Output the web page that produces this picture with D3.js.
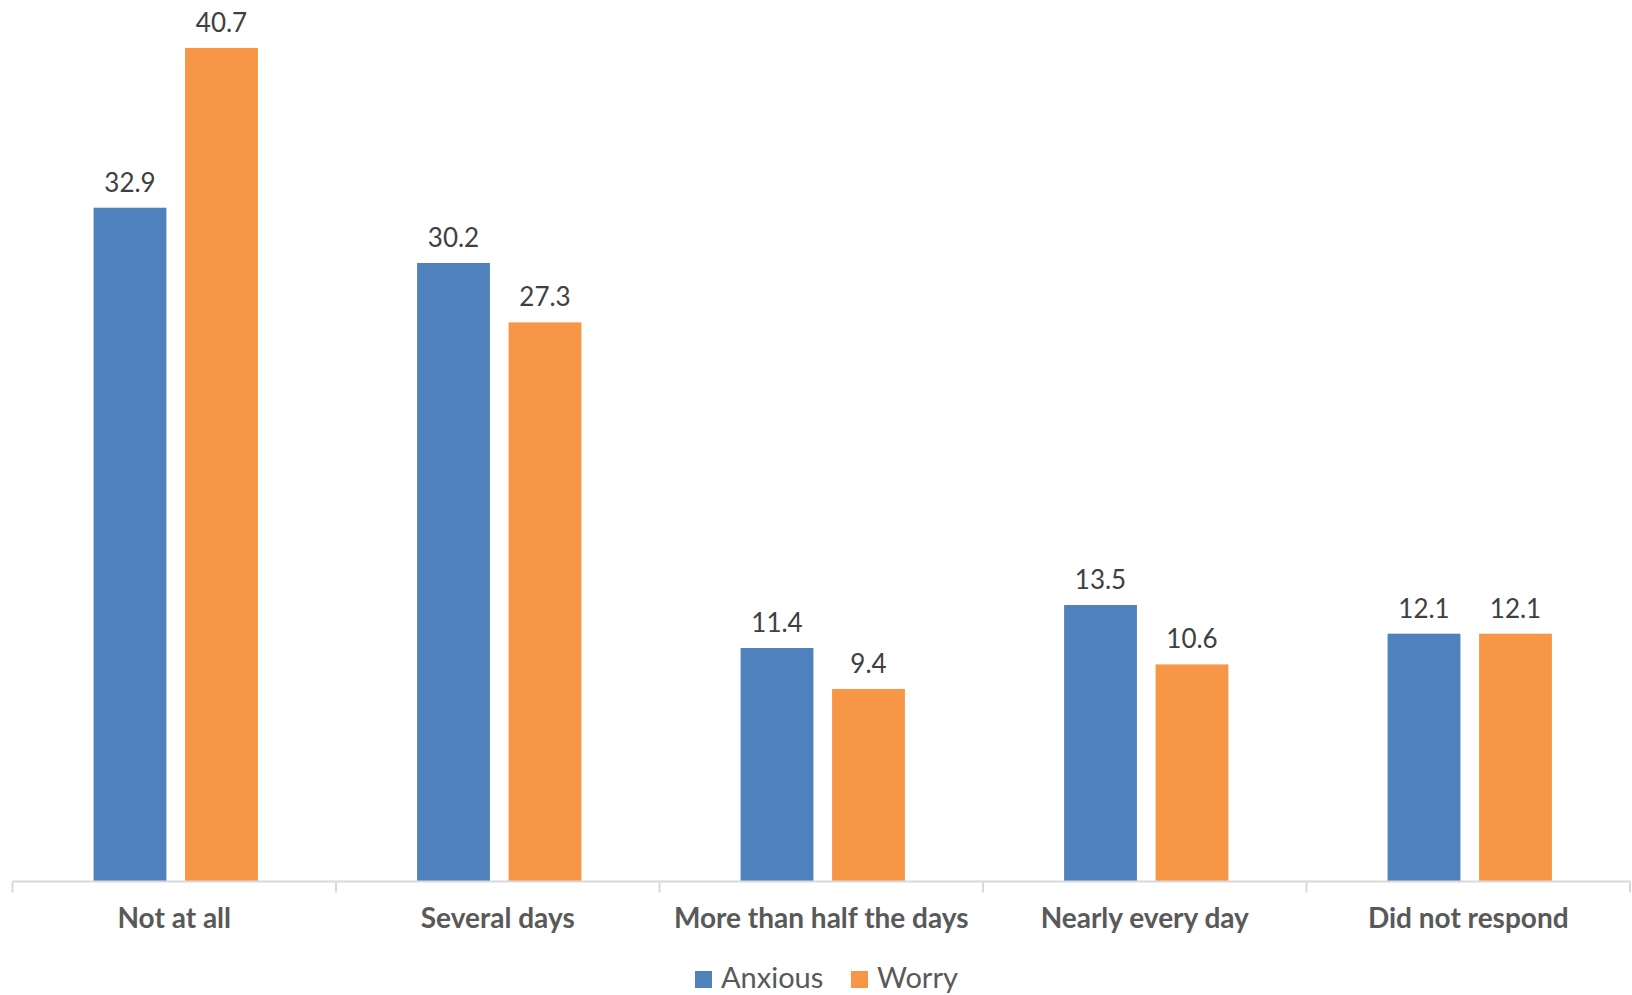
<!DOCTYPE html>
<html>
<head>
<meta charset="utf-8">
<script src="https://cdn.jsdelivr.net/npm/d3@7"></script>
<style>
  html, body { margin: 0; padding: 0; background: #ffffff; }
  svg { display: block; }
</style>
</head>
<body>
<svg id="chart" width="1632" height="995"></svg>
<script>
const categories = ["Not at all", "Several days", "More than half the days", "Nearly every day", "Did not respond"];
const seriesNames = ["Anxious", "Worry"];
const anxious = [32.9, 30.2, 11.4, 13.5, 12.1];
const worry = [40.7, 27.3, 9.4, 10.6, 12.1];
const colors = ["#4F81BD", "#F79646"];

const W = 1632, H = 995;
const margin = { left: 12.5, right: 2, top: 0, bottom: 113.5 };
const baseY = H - margin.bottom; // 881.5
const svg = d3.select("#chart");
const FONT = "Lato, 'Open Sans', sans-serif";

const x = d3.scaleBand().domain(categories).range([margin.left, W - margin.right]).paddingInner(0).paddingOuter(0);
const x1 = d3.scaleBand().domain(seriesNames).range([1.5, x.bandwidth() + 1.5]).paddingInner(0.204).paddingOuter(0.87);
const y = d3.scaleLinear().domain([0, 45]).range([baseY, baseY - 921.6]);

const data = categories.map((c, i) => ({ cat: c, vals: [anxious[i], worry[i]] }));

const g = svg.append("g");
const groups = g.selectAll("g.cat").data(data).join("g")
  .attr("class", "cat")
  .attr("transform", d => `translate(${x(d.cat)},0)`);

groups.selectAll("rect").data(d => d.vals.map((v, j) => ({ v, s: seriesNames[j], j })))
  .join("rect")
  .attr("x", d => x1(d.s))
  .attr("width", x1.bandwidth())
  .attr("y", d => y(d.v))
  .attr("height", d => baseY - y(d.v))
  .attr("fill", d => colors[d.j]);

groups.selectAll("text.val").data(d => d.vals.map((v, j) => ({ v, s: seriesNames[j], j })))
  .join("text")
  .attr("class", "val")
  .attr("x", d => x1(d.s) + x1.bandwidth() / 2)
  .attr("y", d => y(d.v) - 16)
  .attr("text-anchor", "middle")
  .attr("font-family", FONT)
  .attr("font-size", 26)
  .attr("fill", "#404040")
  .text(d => d.v.toFixed(1));

// axis
const axis = d3.axisBottom(x).tickSize(0).tickFormat(d => d);
const ag = svg.append("g").attr("transform", `translate(0,${baseY})`).call(axis);
ag.select(".domain").attr("stroke", "#D9D9D9").attr("stroke-width", 2).attr("d", `M${margin.left},0H${W - margin.right}`);
ag.selectAll(".tick text")
  .attr("dy", null)
  .attr("y", 46)
  .attr("font-family", FONT)
  .attr("font-size", 28)
  .attr("font-weight", "bold")
  .attr("fill", "#595959");
// category boundary ticks
const bounds = categories.map(c => x(c)).concat([x(categories[categories.length - 1]) + x.bandwidth()]);
ag.selectAll("line.bound").data(bounds).join("line")
  .attr("class", "bound")
  .attr("x1", d => d).attr("x2", d => d)
  .attr("y1", 0).attr("y2", 11)
  .attr("stroke", "#D9D9D9").attr("stroke-width", 2);

// legend
const legend = svg.append("g").attr("transform", `translate(695, 971)`);
const offsets = [0, 156];
seriesNames.forEach((s, i) => {
  const lg = legend.append("g").attr("transform", `translate(${offsets[i]},0)`);
  lg.append("rect").attr("width", 17).attr("height", 17).attr("fill", colors[i]);
  lg.append("text").attr("x", 26).attr("y", 17)
    .attr("font-family", FONT)
    .attr("font-size", 29)
    .attr("fill", "#595959")
    .text(s);
});
</script>
</body>
</html>
